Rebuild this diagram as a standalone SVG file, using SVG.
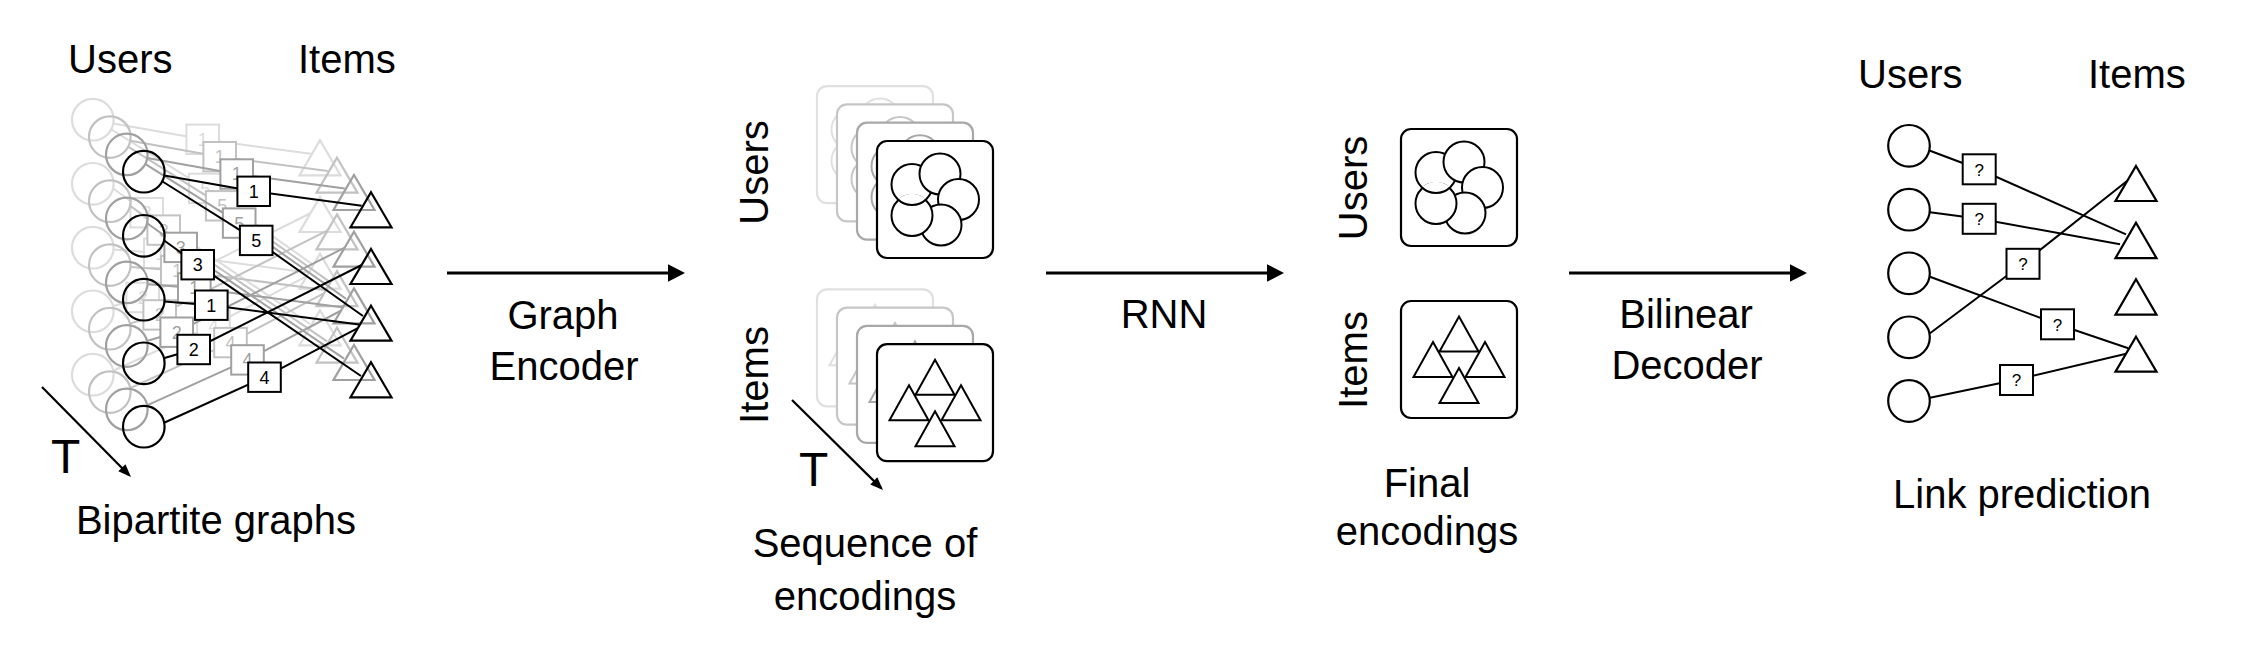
<svg xmlns="http://www.w3.org/2000/svg" xmlns:xlink="http://www.w3.org/1999/xlink" width="2254" height="648" viewBox="0 0 2254 648">
<style>
.lbl{font-family:"Liberation Sans",Arial,Helvetica,sans-serif;font-size:40px;fill:#000}
.big{font-size:48px}
.num{font-family:"Liberation Sans",Arial,Helvetica,sans-serif;font-size:18px;fill:currentColor;text-anchor:middle}
.q{font-size:17px}
.node{fill:none;stroke:currentColor;stroke-width:2.2}
.wnode{fill:#fff;stroke:currentColor;stroke-width:2.2}
.box{fill:#fff;stroke:currentColor;stroke-width:2}
.edge{fill:none;stroke:currentColor;stroke-width:2}
.arrow{stroke:#000;stroke-width:3.2;fill:none}
.tarrow{stroke:#000;stroke-width:2.2;fill:none}
.card{fill:#fff;stroke:currentColor;stroke-width:2.2}
.shape{fill:#fff;stroke:currentColor;stroke-width:2}
.bg{fill:#fff;stroke:none}
</style>
<defs>
<marker id="ah" markerUnits="userSpaceOnUse" markerWidth="20" markerHeight="20" refX="13" refY="8.7" orient="auto" overflow="visible"><path d="M0,0 L17,8.7 L0,17.4 z" fill="#000"/></marker>
<marker id="ahs" markerUnits="userSpaceOnUse" markerWidth="16" markerHeight="16" refX="10" refY="5" orient="auto" overflow="visible"><path d="M0,0 L13,5 L0,10 z" fill="#000"/></marker>
<clipPath id="clipBL" clipPathUnits="userSpaceOnUse"><circle cx="-23" cy="16" r="21.7"/></clipPath>
<g id="usersEnc">
<rect class="card" x="-58" y="-58.5" width="116" height="117" rx="10"/>
<circle class="shape" cx="-23" cy="-15" r="20.5"/>
<circle class="shape" cx="5" cy="-25.5" r="20.5"/>
<circle class="shape" cx="23.5" cy="0" r="20.5"/>
<circle class="shape" cx="6" cy="25.5" r="20.5"/>
<circle class="shape" cx="-23" cy="16" r="20.5"/>
<circle class="shape" cx="-23" cy="-15" r="20.5" clip-path="url(#clipBL)"/>
</g>
<g id="itemsEnc">
<rect class="card" x="-58" y="-58.5" width="116" height="117" rx="10"/>
<path class="shape" d="M-26,-17.5 l19.5,35 h-39 z"/>
<path class="shape" d="M26,-17.5 l19.5,35 h-39 z"/>
<path class="shape" d="M0,-43 l19.5,35 h-39 z"/>
<path class="shape" d="M0,8.5 l19.5,35 h-39 z"/>
</g>
</defs>
<rect width="2254" height="648" fill="#fff"/>

<!-- Left: bipartite graphs over time -->
<g id="bip-ghosts">
<use href="#bip-front" xlink:href="#bip-front" transform="translate(-51,-52)" style="color:#dcdcdc"/>
<use href="#bip-front" xlink:href="#bip-front" transform="translate(-34,-34.6)" style="color:#c2c2c2"/>
<use href="#bip-front" xlink:href="#bip-front" transform="translate(-17,-17.3)" style="color:#a0a0a0"/>
</g>
<g style="color:#000">
<g id="bip-front">
<g id="bip-edges">
<path class="edge" d="M164.3,175.4 L253.7,191.3 L361.7,205.7"/>
<path class="edge" d="M162.5,181.5 L256.2,240.4 L363,316"/>
<path class="edge" d="M163.5,240 L197.7,264.7 L361,376"/>
<path class="edge" d="M164.5,301.5 L211.3,305.2 L359,324.5"/>
<path class="edge" d="M164.5,358 L193.7,349.5 L361.7,265"/>
<path class="edge" d="M163.5,423 L264.5,377.2 L357.3,328.3"/>
</g>
<g id="bip-u1"><circle class="node" cx="143.8" cy="171.7" r="20.8"/></g>
<g id="bip-u2"><circle class="node" cx="143.8" cy="235.8" r="20.8"/></g>
<g id="bip-u3"><circle class="node" cx="143.8" cy="299.7" r="20.8"/></g>
<g id="bip-u4"><circle class="node" cx="143.8" cy="363.3" r="20.8"/></g>
<g id="bip-u5"><circle class="node" cx="143.8" cy="426.7" r="20.8"/></g>
<g id="bip-i1"><path class="node" d="M371,192.3 l20.5,35 h-41 z"/></g>
<g id="bip-i2"><path class="node" d="M371,249 l20.5,35 h-41 z"/></g>
<g id="bip-i3"><path class="node" d="M371,305.7 l20.5,35 h-41 z"/></g>
<g id="bip-i4"><path class="node" d="M371,362.3 l20.5,35 h-41 z"/></g>
<g id="bip-r1"><rect class="box" x="237.4" y="176.6" width="32.6" height="29.4"/><text class="num" x="253.7" y="197.8">1</text></g>
<g id="bip-r5"><rect class="box" x="239.9" y="225.7" width="32.6" height="29.4"/><text class="num" x="256.2" y="246.9">5</text></g>
<g id="bip-r3"><rect class="box" x="181.4" y="250" width="32.6" height="29.4"/><text class="num" x="197.7" y="271.2">3</text></g>
<g id="bip-r1b"><rect class="box" x="195" y="290.5" width="32.6" height="29.4"/><text class="num" x="211.3" y="311.7">1</text></g>
<g id="bip-r2"><rect class="box" x="177.4" y="334.8" width="32.6" height="29.4"/><text class="num" x="193.7" y="356">2</text></g>
<g id="bip-r4"><rect class="box" x="248.2" y="362.5" width="32.6" height="29.4"/><text class="num" x="264.5" y="383.7">4</text></g>
</g>
</g>
<g id="bip-labels">
<text class="lbl" x="68" y="73">Users</text>
<text class="lbl" x="298" y="73">Items</text>
<text class="lbl big" x="51" y="473">T</text>
<text class="lbl" x="216" y="534" text-anchor="middle">Bipartite graphs</text>
</g>

<!-- Sequence of encodings -->
<g id="seq-users">
<use href="#usersEnc" xlink:href="#usersEnc" transform="translate(875,144.6)" style="color:#e0e0e0"/>
<use href="#usersEnc" xlink:href="#usersEnc" transform="translate(895,162.9)" style="color:#c6c6c6"/>
<use href="#usersEnc" xlink:href="#usersEnc" transform="translate(915,181.2)" style="color:#a8a8a8"/>
<use href="#usersEnc" xlink:href="#usersEnc" transform="translate(935,199.5)" style="color:#000"/>
</g>
<g id="seq-items">
<use href="#itemsEnc" xlink:href="#itemsEnc" transform="translate(875,347.8)" style="color:#e0e0e0"/>
<use href="#itemsEnc" xlink:href="#itemsEnc" transform="translate(895,366.1)" style="color:#c6c6c6"/>
<use href="#itemsEnc" xlink:href="#itemsEnc" transform="translate(915,384.4)" style="color:#a8a8a8"/>
<use href="#itemsEnc" xlink:href="#itemsEnc" transform="translate(935,402.7)" style="color:#000"/>
</g>
<g id="seq-labels">
<text class="lbl" transform="translate(768,172.5) rotate(-90)" text-anchor="middle">Users</text>
<text class="lbl" transform="translate(768,375) rotate(-90)" text-anchor="middle">Items</text>
<text class="lbl big" x="799" y="486">T</text>
<text class="lbl" x="865" y="557" text-anchor="middle">Sequence of</text>
<text class="lbl" x="865" y="610" text-anchor="middle">encodings</text>
</g>

<!-- Final encodings -->
<g id="final-users"><use href="#usersEnc" xlink:href="#usersEnc" transform="translate(1459,187.5)" style="color:#000"/></g>
<g id="final-items"><use href="#itemsEnc" xlink:href="#itemsEnc" transform="translate(1459,359.5)" style="color:#000"/></g>
<g id="final-labels">
<text class="lbl" transform="translate(1367,188) rotate(-90)" text-anchor="middle">Users</text>
<text class="lbl" transform="translate(1367,360) rotate(-90)" text-anchor="middle">Items</text>
<text class="lbl" x="1427" y="497" text-anchor="middle">Final</text>
<text class="lbl" x="1427" y="545" text-anchor="middle">encodings</text>
</g>

<!-- Link prediction -->
<g style="color:#000">
<g id="lp-edges">
<path class="edge" d="M1930,150.7 L1979.2,169.3 L2126,234.3"/>
<path class="edge" d="M1930,212.3 L1979.2,218.7 L2120,244.3"/>
<path class="edge" d="M1930,333.3 L2022.8,263.7 L2128.3,180"/>
<path class="edge" d="M1930,276.7 L2057.5,324.2 L2128.3,348.3"/>
<path class="edge" d="M1930,397.7 L2016.3,379.7 L2128.3,353.3"/>
</g>
<g id="lp-u1"><circle class="wnode" cx="1909" cy="145.8" r="20.8"/></g>
<g id="lp-u2"><circle class="wnode" cx="1909" cy="209.7" r="20.8"/></g>
<g id="lp-u3"><circle class="wnode" cx="1909" cy="273.3" r="20.8"/></g>
<g id="lp-u4"><circle class="wnode" cx="1909" cy="337.3" r="20.8"/></g>
<g id="lp-u5"><circle class="wnode" cx="1909" cy="401" r="20.8"/></g>
<g id="lp-i1"><path class="wnode" d="M2136,166 l20.5,35 h-41 z"/></g>
<g id="lp-i2"><path class="wnode" d="M2136,222.7 l20.5,35.4 h-41 z"/></g>
<g id="lp-i3"><path class="wnode" d="M2136,279.3 l20.5,35.4 h-41 z"/></g>
<g id="lp-i4"><path class="wnode" d="M2136,336.7 l20.5,35 h-41 z"/></g>
<g id="lp-q1"><rect class="box" x="1962.7" y="154.3" width="33" height="30"/><text class="num q" x="1979.2" y="175.5">?</text></g>
<g id="lp-q2"><rect class="box" x="1962.7" y="203.8" width="33" height="30"/><text class="num q" x="1979.2" y="225">?</text></g>
<g id="lp-q3"><rect class="box" x="2006.5" y="248.8" width="33" height="30"/><text class="num q" x="2023" y="270">?</text></g>
<g id="lp-q4"><rect class="box" x="2041" y="309.3" width="33" height="30"/><text class="num q" x="2057.5" y="330.5">?</text></g>
<g id="lp-q5"><rect class="box" x="2000" y="365" width="33" height="30"/><text class="num q" x="2016.5" y="386.2">?</text></g>
</g>
<g id="lp-labels">
<text class="lbl" x="1858" y="88">Users</text>
<text class="lbl" x="2088" y="88">Items</text>
<text class="lbl" x="2022" y="508" text-anchor="middle">Link prediction</text>
</g>

<!-- Stage arrows -->
<g id="connectors">
<line class="arrow" x1="447" y1="273" x2="681" y2="273" marker-end="url(#ah)"/>
<line class="arrow" x1="1046" y1="273" x2="1280" y2="273" marker-end="url(#ah)"/>
<line class="arrow" x1="1569" y1="273" x2="1803" y2="273" marker-end="url(#ah)"/>
<line class="tarrow" x1="42" y1="387" x2="128.9" y2="474.9" marker-end="url(#ahs)"/>
<line class="tarrow" x1="792" y1="400" x2="880.9" y2="487.9" marker-end="url(#ahs)"/>
</g>
<g id="stage-labels">
<text class="lbl" x="563" y="329" text-anchor="middle">Graph</text>
<text class="lbl" x="564" y="380" text-anchor="middle">Encoder</text>
<text class="lbl" x="1164" y="328" text-anchor="middle">RNN</text>
<text class="lbl" x="1686" y="328" text-anchor="middle">Bilinear</text>
<text class="lbl" x="1687" y="379" text-anchor="middle">Decoder</text>
</g>
</svg>
